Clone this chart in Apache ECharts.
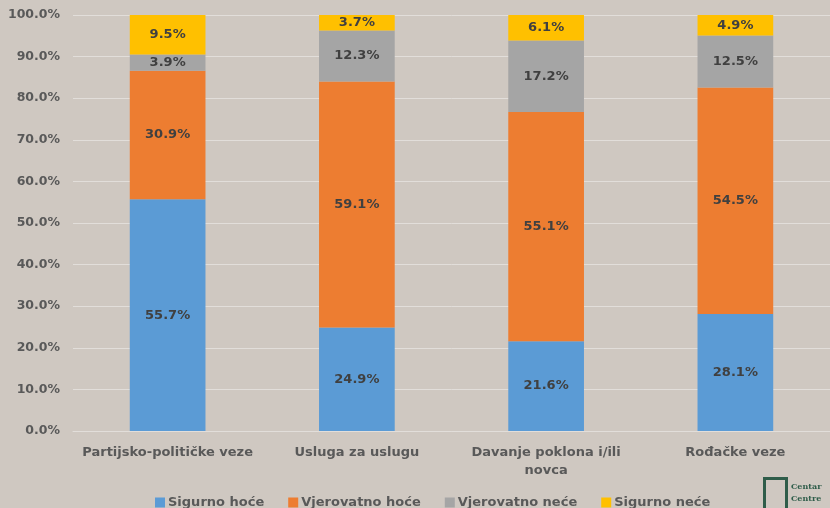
<!DOCTYPE html>
<html><head><meta charset="utf-8">
<script src="https://cdn.jsdelivr.net/npm/echarts@6/dist/echarts.min.js"></script>
<style>html,body{margin:0;padding:0;background:#cfc8c1;}#c{width:830px;height:508px;}</style>
</head><body><div id="c"></div>
<script>
const categories = ['Partijsko-političke veze', 'Usluga za uslugu', 'Davanje poklona i/ili\nnovca', 'Rođačke veze'];
const seriesNames = ['Sigurno hoće', 'Vjerovatno hoće', 'Vjerovatno neće', 'Sigurno neće'];
const sigurnoHoce = [55.7, 24.9, 21.6, 28.1];
const vjerovatnoHoce = [30.9, 59.1, 55.1, 54.5];
const vjerovatnoNece = [3.9, 12.3, 17.2, 12.5];
const sigurnoNece = [9.5, 3.7, 6.1, 4.9];
const colors = ['#5b9bd5', '#ed7d31', '#a5a5a5', '#ffc000'];
const values = [sigurnoHoce, vjerovatnoHoce, vjerovatnoNece, sigurnoNece];
const font = '"DejaVu Sans", sans-serif';
const chart = echarts.init(document.getElementById('c'));
chart.setOption({
  backgroundColor: '#cfc8c1',
  animation: false,
  grid: { left: 73, width: 761, top: 15, bottom: 77, containLabel: false },
  legend: {
    bottom: -6, left: 150, itemWidth: 10, itemHeight: 10, itemGap: 24,
    icon: 'rect',
    textStyle: { color: '#595959', fontFamily: font, fontWeight: 'bold', fontSize: 13, padding: [0, 0, 0, -2] },
    data: seriesNames
  },
  graphic: [
    { type: 'rect', left: 762, top: 476, shape: { width: 22, height: 32 }, style: { fill: 'none', stroke: '#2f5d4a', lineWidth: 3 } },
    { type: 'text', left: 791, top: 481, style: { text: 'Centar\nCentre', fill: '#2f5d4a', font: 'bold 8px "DejaVu Serif", serif', lineHeight: 12 } }
  ],
  xAxis: {
    type: 'category', data: categories,
    axisLine: { lineStyle: { color: '#e2deda', width: 1 } },
    axisTick: { show: false },
    axisLabel: { color: '#595959', fontFamily: font, fontWeight: 'bold', fontSize: 13, margin: 13, lineHeight: 18, interval: 0 }
  },
  yAxis: {
    type: 'value', min: 0, max: 100, interval: 10,
    axisLine: { show: false }, axisTick: { show: false },
    splitLine: { lineStyle: { color: '#e2deda', width: 1 } },
    axisLabel: { color: '#595959', fontFamily: font, fontWeight: 'bold', fontSize: 12.5, margin: 13,
      formatter: v => v.toFixed(1) + '%' }
  },
  series: seriesNames.map((n, i) => ({
    name: n, type: 'bar', stack: 'total', barWidth: '40%',
    itemStyle: { color: colors[i] },
    label: { show: true, position: 'inside', color: '#404040', fontFamily: font, fontWeight: 'bold', fontSize: 13,
      formatter: p => p.value.toFixed(1) + '%' },
    data: values[i]
  }))
});
</script></body></html>
